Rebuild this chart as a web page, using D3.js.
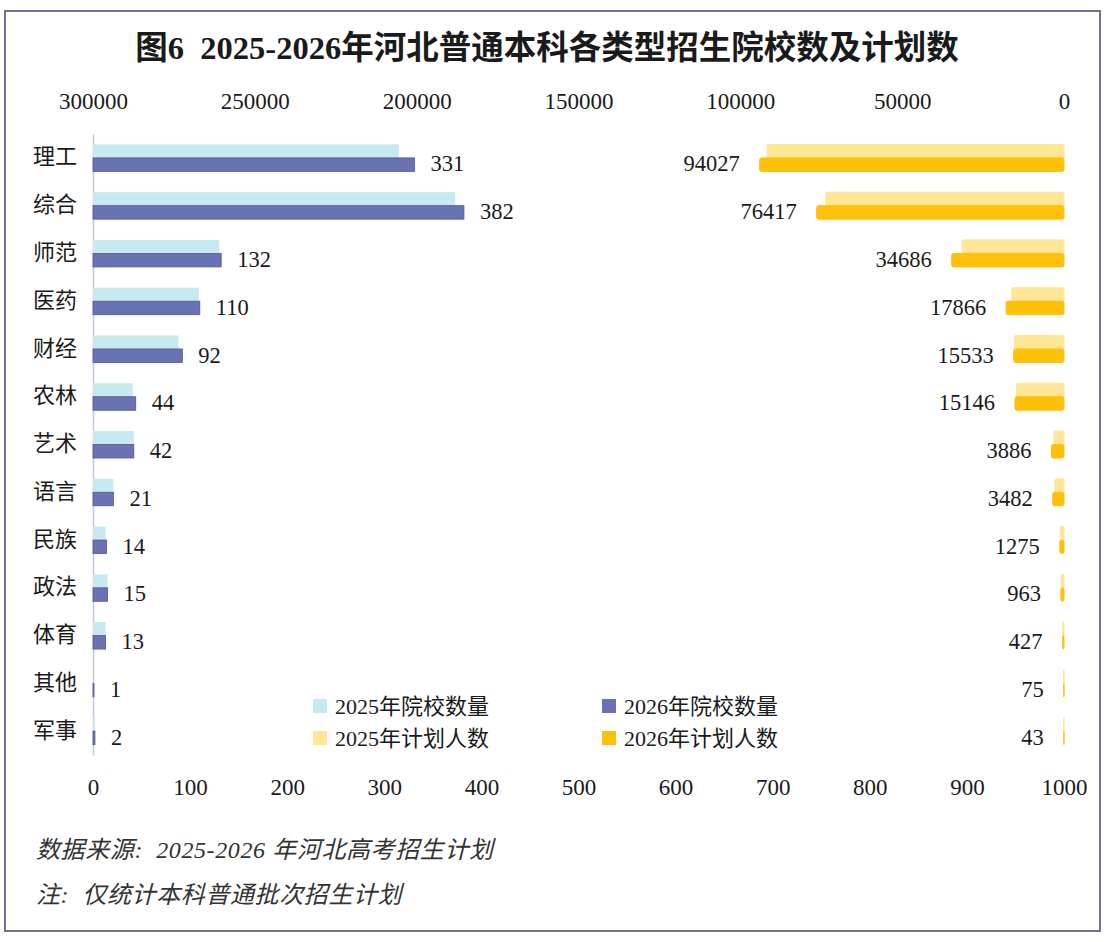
<!DOCTYPE html>
<html>
<head>
    <meta charset="UTF-8">
    <title>图6 2025-2026年河北普通本科各类型招生院校数及计划数</title>
    <script src="https://d3js.org/d3.v7.min.js"></script>
    <style>
        body {
            margin: 0;
            padding: 0;
            background: #fff;
        }
        svg text {
            font-family: "Liberation Serif", "Noto Sans CJK SC", serif;
            fill: #1a1a1a;
        }
        .title {
            font-size: 32.5px;
            font-weight: bold;
            white-space: pre;
        }
        .tick text {
            font-size: 23px;
        }
        .cat-axis .tick text {
            font-size: 22px;
        }
        .value-label {
            font-size: 22.5px;
        }
        .legend text {
            font-size: 22px;
        }
        .note {
            font-size: 24px;
            font-style: italic;
            letter-spacing: 0.6px;
            fill: #333;
            white-space: pre;
        }
    </style>
</head>
<body>
    <svg id="chart" width="1112" height="942"></svg>

    <script>
        const categories = ["理工", "综合", "师范", "医药", "财经", "农林", "艺术", "语言", "民族", "政法", "体育", "其他", "军事"];

        // 院校数量
        const schools2025 = [315, 373, 130, 109, 88, 41, 42, 21, 13, 15, 13, 0, 2];
        const schools2026 = [331, 382, 132, 110, 92, 44, 42, 21, 14, 15, 13, 1, 2];

        // 计划人数
        const plan2025 = [91700, 73600, 31500, 16100, 15300, 14700, 3100, 2800, 1150, 900, 420, 70, 40];
        const plan2026 = [94027, 76417, 34686, 17866, 15533, 15146, 3886, 3482, 1275, 963, 427, 75, 43];

        const schoolTicks = [0, 100, 200, 300, 400, 500, 600, 700, 800, 900, 1000];
        const planTicks = [300000, 250000, 200000, 150000, 100000, 50000, 0];

        const seriesNames = ["2025年院校数量", "2026年院校数量", "2025年计划人数", "2026年计划人数"];
        const seriesColors = ["#c6eaef", "#6a72b4", "#ffe596", "#ffc00a"];

        const title = "图6  2025-2026年河北普通本科各类型招生院校数及计划数";
        const notes = ["数据来源:  2025-2026 年河北高考招生计划", "注:  仅统计本科普通批次招生计划"];

        const plot = { left: 93, right: 1064, top: 134, bottom: 755 };

        const svg = d3.select("#chart");

        // frame
        svg.append("rect")
            .attr("x", 5).attr("y", 11)
            .attr("width", 1095).attr("height", 920)
            .attr("fill", "#fff")
            .attr("stroke", "#6e7192")
            .attr("stroke-width", 2);

        svg.append("text")
            .attr("class", "title")
            .attr("x", 547).attr("y", 59)
            .attr("text-anchor", "middle")
            .text(title);

        const y = d3.scaleBand()
            .domain(categories)
            .range([plot.top, plot.bottom])
            .paddingInner(0.435)
            .paddingOuter(0.2175);

        const ySub = d3.scaleBand()
            .domain(["2025", "2026"])
            .range([0, y.bandwidth()]);

        const xSchool = d3.scaleLinear()
            .domain([0, 1000])
            .range([plot.left, plot.right]);

        const xPlan = d3.scaleLinear()
            .domain([0, 300000])
            .range([plot.right, plot.left]);

        const rows = categories.map((c, i) => ({
            cat: c,
            s25: schools2025[i], s26: schools2026[i],
            p25: plan2025[i], p26: plan2026[i]
        }));

        // top axis (计划人数)
        const topAxis = svg.append("g")
            .attr("transform", `translate(0,${plot.top})`)
            .call(d3.axisTop(xPlan).tickValues(planTicks).tickFormat(d3.format("d")).tickSize(0).tickPadding(25));
        topAxis.select(".domain").remove();

        // bottom axis (院校数量)
        const bottomAxis = svg.append("g")
            .attr("transform", `translate(0,${plot.bottom})`)
            .call(d3.axisBottom(xSchool).tickValues(schoolTicks).tickFormat(d3.format("d")).tickSize(0).tickPadding(24));
        bottomAxis.select(".domain").remove();

        // category axis
        const catAxis = svg.append("g")
            .attr("class", "cat-axis")
            .attr("transform", `translate(${plot.left},0)`)
            .call(d3.axisLeft(y).tickSize(0).tickSizeOuter(0).tickPadding(16));
        catAxis.select(".domain")
            .attr("stroke", "#c4c8d8")
            .attr("stroke-width", 1.5);
        catAxis.selectAll(".tick text").attr("dy", "0.3em");

        const groups = svg.append("g").selectAll("g")
            .data(rows)
            .join("g")
            .attr("transform", d => `translate(0,${y(d.cat)})`);

        // school bars
        groups.append("rect")
            .attr("x", xSchool(0))
            .attr("y", ySub("2025"))
            .attr("width", d => xSchool(d.s25) - xSchool(0))
            .attr("height", ySub.bandwidth())
            .attr("fill", seriesColors[0]);

        groups.append("rect")
            .attr("x", xSchool(0))
            .attr("y", ySub("2026"))
            .attr("width", d => xSchool(d.s26) - xSchool(0))
            .attr("height", ySub.bandwidth())
            .attr("fill", seriesColors[1])
            .attr("stroke", "#4f5795")
            .attr("stroke-width", 0.8);

        // plan bars (thin outline in the fill colour, like the source)
        groups.append("rect")
            .attr("x", d => xPlan(d.p25))
            .attr("y", ySub("2025"))
            .attr("width", d => xPlan(0) - xPlan(d.p25))
            .attr("height", ySub.bandwidth())
            .attr("rx", 1.5)
            .attr("fill", seriesColors[2])
            .attr("stroke", seriesColors[2])
            .attr("stroke-width", 1);

        groups.append("rect")
            .attr("x", d => xPlan(d.p26))
            .attr("y", ySub("2026"))
            .attr("width", d => xPlan(0) - xPlan(d.p26))
            .attr("height", ySub.bandwidth())
            .attr("rx", 2)
            .attr("fill", seriesColors[3])
            .attr("stroke", seriesColors[3])
            .attr("stroke-width", 1);

        // value labels
        groups.append("text")
            .attr("class", "value-label")
            .attr("x", d => xSchool(d.s26) + 16)
            .attr("y", ySub("2026") + ySub.bandwidth() / 2 - 1)
            .attr("dy", "0.35em")
            .text(d => d.s26);

        groups.append("text")
            .attr("class", "value-label")
            .attr("x", d => xPlan(d.p26) - 20)
            .attr("y", ySub("2026") + ySub.bandwidth() / 2 - 1)
            .attr("dy", "0.35em")
            .attr("text-anchor", "end")
            .text(d => d.p26);

        // legend
        const legendItems = [
            { name: seriesNames[0], color: seriesColors[0], col: 0, row: 0 },
            { name: seriesNames[1], color: seriesColors[1], col: 1, row: 0 },
            { name: seriesNames[2], color: seriesColors[2], col: 0, row: 1 },
            { name: seriesNames[3], color: seriesColors[3], col: 1, row: 1 }
        ];
        const legend = svg.append("g").attr("class", "legend")
            .selectAll("g")
            .data(legendItems)
            .join("g")
            .attr("transform", d => `translate(${313 + d.col * 289},${706 + d.row * 32})`);
        legend.append("rect")
            .attr("x", 0).attr("y", -7)
            .attr("width", 14).attr("height", 14)
            .attr("fill", d => d.color);
        legend.append("text")
            .attr("x", 22).attr("y", 0)
            .attr("dy", "0.35em")
            .text(d => d.name);

        // notes
        svg.selectAll(".note")
            .data(notes)
            .join("text")
            .attr("class", "note")
            .attr("x", 36)
            .attr("y", (d, i) => 850 + i * 45)
            .attr("dy", "0.35em")
            .text(d => d);
    </script>
</body>
</html>
